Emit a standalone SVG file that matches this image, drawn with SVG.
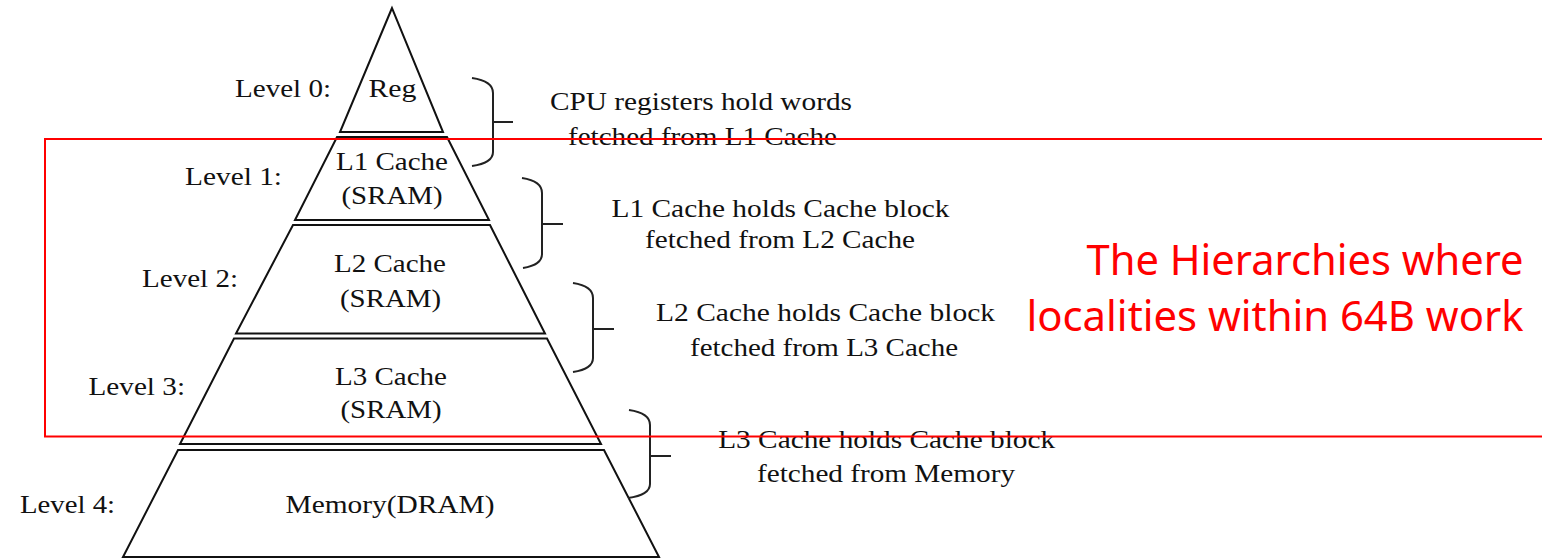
<svg xmlns="http://www.w3.org/2000/svg" width="1542" height="558" viewBox="0 0 1542 558">
<style>
.lvl{fill:#fff;stroke:#111;stroke-width:2;stroke-linejoin:miter}
.t{font-family:"Liberation Serif","Times New Roman",serif;font-size:25px;fill:#111}
.c{text-anchor:middle}
.br{fill:none;stroke:#222;stroke-width:2}
.red{fill:none;stroke:#ff0000;stroke-width:2}
.rt{font-family:"Noto Sans","Open Sans",sans-serif;font-size:41px;fill:#ff0000;text-anchor:end}
</style>
<rect width="1542" height="558" fill="#fff"/>
<g id="level0">
<polygon class="lvl" points="392,8 340,132 443,132"/>
<text class="t" x="235" y="97" textLength="96" lengthAdjust="spacingAndGlyphs">Level 0:</text>
<text class="t c" x="392.5" y="97" textLength="48" lengthAdjust="spacingAndGlyphs">Reg</text>
</g>
<g id="level1">
<polygon class="lvl" points="337,137 447,137 489,220 295,220"/>
<text class="t" x="185" y="185" textLength="97" lengthAdjust="spacingAndGlyphs">Level 1:</text>
<text class="t c" x="392" y="170" textLength="112" lengthAdjust="spacingAndGlyphs">L1 Cache</text>
<text class="t c" x="392" y="204" textLength="101" lengthAdjust="spacingAndGlyphs">(SRAM)</text>
</g>
<g id="level2">
<polygon class="lvl" points="293,225 490,225 545,333.5 236,333.5"/>
<text class="t" x="142" y="287" textLength="96" lengthAdjust="spacingAndGlyphs">Level 2:</text>
<text class="t c" x="390" y="272" textLength="112" lengthAdjust="spacingAndGlyphs">L2 Cache</text>
<text class="t c" x="390.5" y="307" textLength="101" lengthAdjust="spacingAndGlyphs">(SRAM)</text>
</g>
<g id="level3">
<polygon class="lvl" points="234,338.5 547,338.5 601,444 180,444"/>
<text class="t" x="88.5" y="395" textLength="96.5" lengthAdjust="spacingAndGlyphs">Level 3:</text>
<text class="t c" x="391" y="385" textLength="112" lengthAdjust="spacingAndGlyphs">L3 Cache</text>
<text class="t c" x="391" y="418" textLength="101" lengthAdjust="spacingAndGlyphs">(SRAM)</text>
</g>
<g id="level4">
<polygon class="lvl" points="178,450 604,450 659,557 123,557"/>
<text class="t" x="20" y="513" textLength="95" lengthAdjust="spacingAndGlyphs">Level 4:</text>
<text class="t c" x="390" y="513" textLength="209" lengthAdjust="spacingAndGlyphs">Memory(DRAM)</text>
</g>
<g id="connectors">
<path class="br" d="M472 78 Q493 81 493 93 L493 152 Q493 163 472 166 M493 122 L513 122"/>
<path class="br" d="M522 178 Q542 181 542 193 L542 254 Q542 265 523 268 M542 224 L563 224"/>
<path class="br" d="M573 283 Q593 286 593 298 L593 358 Q593 369 573 372 M593 329 L614 329"/>
<path class="br" d="M629 410 Q650 413 650 425 L650 484 Q650 495 628 498 M650 456 L671 456"/>
</g>
<g id="desc0">
<text class="t c" x="701" y="110" textLength="302" lengthAdjust="spacingAndGlyphs">CPU registers hold words</text>
<text class="t c" x="702.5" y="145" textLength="269" lengthAdjust="spacingAndGlyphs">fetched from L1 Cache</text>
</g>
<g id="desc1">
<text class="t c" x="780.5" y="217" textLength="338" lengthAdjust="spacingAndGlyphs">L1 Cache holds Cache block</text>
<text class="t c" x="780" y="248" textLength="270" lengthAdjust="spacingAndGlyphs">fetched from L2 Cache</text>
</g>
<g id="desc2">
<text class="t c" x="825.5" y="321" textLength="339" lengthAdjust="spacingAndGlyphs">L2 Cache holds Cache block</text>
<text class="t c" x="824" y="356" textLength="268" lengthAdjust="spacingAndGlyphs">fetched from L3 Cache</text>
</g>
<g id="desc3">
<text class="t c" x="886.7" y="448" textLength="337" lengthAdjust="spacingAndGlyphs">L3 Cache holds Cache block</text>
<text class="t c" x="886" y="482" textLength="258" lengthAdjust="spacingAndGlyphs">fetched from Memory</text>
</g>
<g id="highlight">
<rect class="red" x="45" y="139" width="1510" height="297.5"/>
<text class="rt" x="1523.5" y="275" textLength="437" lengthAdjust="spacingAndGlyphs">The Hierarchies where</text>
<text class="rt" x="1523.5" y="330.5" textLength="497" lengthAdjust="spacingAndGlyphs">localities within 64B work</text>
</g>
</svg>
